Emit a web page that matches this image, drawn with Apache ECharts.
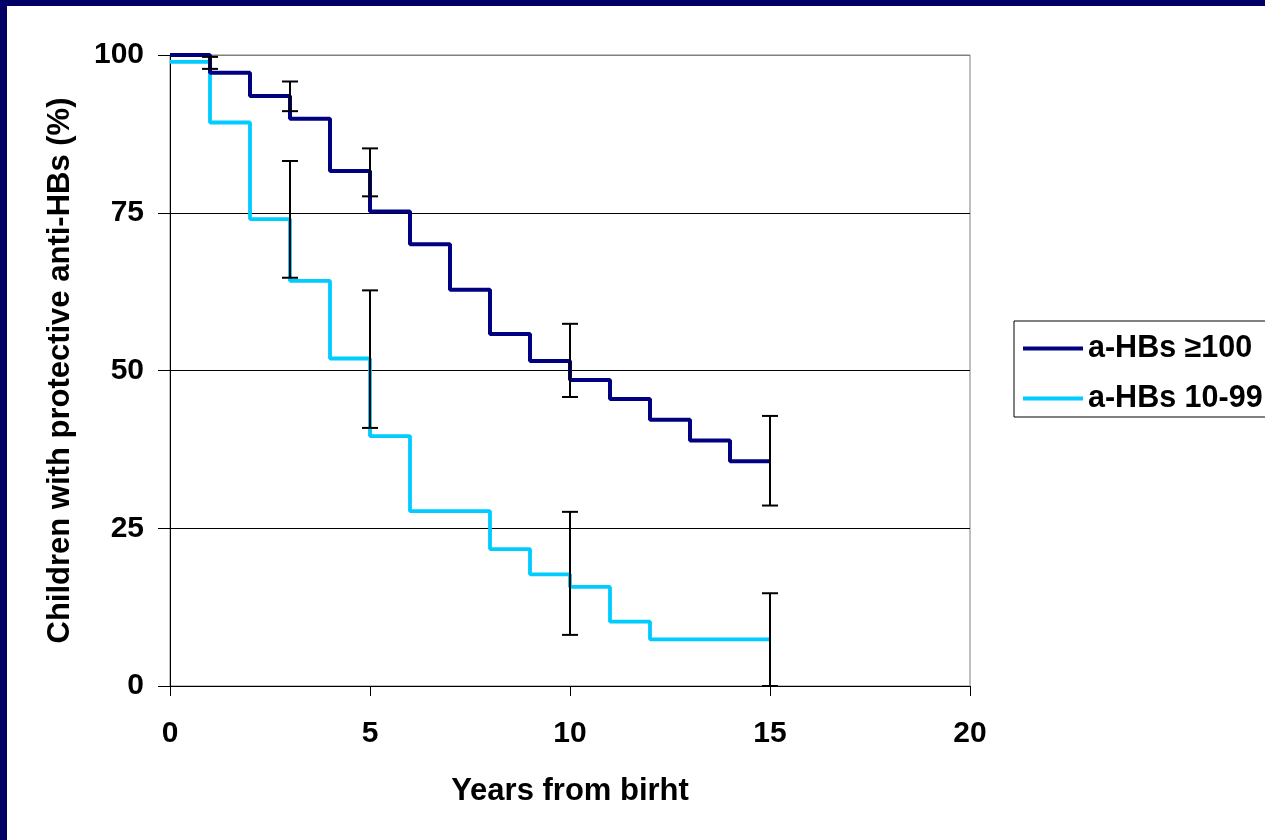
<!DOCTYPE html>
<html>
<head>
<meta charset="utf-8">
<script src="https://cdn.jsdelivr.net/npm/echarts@6/dist/echarts.min.js"></script>
<style>
  html, body { margin: 0; padding: 0; background: #000066; }
  #frame { position: absolute; left: 7px; top: 6px; right: 0; bottom: 0; background: #fff; }
  #chart { position: absolute; left: 0; top: 0; width: 1265px; height: 840px; }
</style>
</head>
<body>
<div id="frame"></div>
<div id="chart"></div>
<script>
// years from birth (step start points)
const years = [0, 1, 2, 3, 4, 5, 6, 7, 8, 9, 10, 11, 12, 13, 14, 15];

// % children with protective anti-HBs
const highTiter = [100, 97.2, 93.5, 89.9, 81.6, 75.2, 70.0, 62.8, 55.8, 51.5, 48.5, 45.5, 42.2, 38.9, 35.6, 35.6];
const lowTiter = [98.9, 89.3, 74.0, 64.2, 51.9, 39.6, 27.7, 27.7, 21.7, 17.7, 15.7, 10.2, 7.4, 7.4, 7.4, 7.4];

// confidence bars
const highErrX = [3, 5, 10, 15];
const highErrLow = [91.1, 77.6, 45.8, 28.6];
const highErrHigh = [95.8, 85.2, 57.4, 42.8];
const lowErrX = [1, 3, 5, 10, 15];
const lowErrLow = [97.8, 64.7, 40.9, 8.1, 0];
const lowErrHigh = [99.7, 83.2, 62.7, 27.6, 14.7];

const xTicks = [0, 5, 10, 15, 20];
const yTicks = [0, 25, 50, 75, 100];

const FONT = '"Liberation Sans", Arial, sans-serif';
const txt = { fontFamily: FONT, fontWeight: 'bold', fontSize: 30, color: '#000' };
const titleTxt = Object.assign({}, txt, { fontSize: 31 });

function pairs(xs, ys) {
    return xs.map((x, i) => [x, ys[i]]);
}

function errData(xs, lo, hi) {
    return xs.map((x, i) => [x, lo[i], hi[i]]);
}

// vertical bar with caps
function renderErr(params, api) {
    const top = api.coord([api.value(0), api.value(2)]);
    const bot = api.coord([api.value(0), api.value(1)]);
    const w = 8;
    const style = { stroke: '#000', lineWidth: 2 };
    return {
        type: 'group',
        children: [
            { type: 'line', shape: { x1: top[0], y1: top[1], x2: bot[0], y2: bot[1] }, style },
            { type: 'line', shape: { x1: top[0] - w, y1: top[1], x2: top[0] + w, y2: top[1] }, style },
            { type: 'line', shape: { x1: bot[0] - w, y1: bot[1], x2: bot[0] + w, y2: bot[1] }, style }
        ]
    };
}

const chart = echarts.init(document.getElementById('chart'));
chart.setOption({
    animation: false,
    backgroundColor: 'transparent',
    grid: {
        left: 170, top: 55, width: 800, height: 631,
        show: true, borderColor: '#808080', borderWidth: 1, backgroundColor: 'transparent'
    },
    legend: {
        orient: 'vertical',
        left: 1014, top: 321,
        padding: [12, 20, 3, 9],
        itemGap: 19,
        itemWidth: 60, itemHeight: 4,
        icon: 'rect',
        borderColor: '#000', borderWidth: 1,
        textStyle: Object.assign({}, txt, { fontSize: 30.5, lineHeight: 30 }),
        data: ['a-HBs ≥100', 'a-HBs 10-99']
    },
    xAxis: {
        type: 'value',
        min: xTicks[0], max: xTicks[xTicks.length - 1], interval: 5,
        name: 'Years from birht',
        nameLocation: 'middle',
        nameGap: 90,
        nameTextStyle: titleTxt,
        axisLine: { lineStyle: { color: '#000', width: 1 } },
        axisTick: { show: true, length: 10, lineStyle: { color: '#000' } },
        axisLabel: Object.assign({ margin: 33 }, txt),
        splitLine: { show: false }
    },
    yAxis: {
        type: 'value',
        min: yTicks[0], max: yTicks[yTicks.length - 1], interval: 25,
        name: 'Children with protective anti-HBs (%)',
        nameLocation: 'middle',
        nameGap: 94,
        nameTextStyle: titleTxt,
        axisLine: { show: true, lineStyle: { color: '#000', width: 1 } },
        axisTick: { show: true, length: 12, lineStyle: { color: '#000' } },
        axisLabel: Object.assign({ margin: 26 }, txt),
        splitLine: { show: true, lineStyle: { color: ['#000', '#000', '#000', '#000', '#808080'], width: 1 } }
    },
    series: [
        {
            name: 'a-HBs ≥100',
            type: 'line',
            step: 'end',
            symbol: 'none',
            color: '#000080',
            lineStyle: { width: 4, color: '#000080' },
            data: pairs(years, highTiter),
            z: 3
        },
        {
            name: 'a-HBs 10-99',
            type: 'line',
            step: 'end',
            symbol: 'none',
            color: '#00CCFF',
            lineStyle: { width: 3.8, color: '#00CCFF' },
            data: pairs(years, lowTiter),
            z: 2
        },
        {
            type: 'custom',
            renderItem: renderErr,
            data: errData(highErrX, highErrLow, highErrHigh),
            z: 5
        },
        {
            type: 'custom',
            renderItem: renderErr,
            data: errData(lowErrX, lowErrLow, lowErrHigh),
            z: 5
        }
    ]
});
</script>
</body>
</html>
